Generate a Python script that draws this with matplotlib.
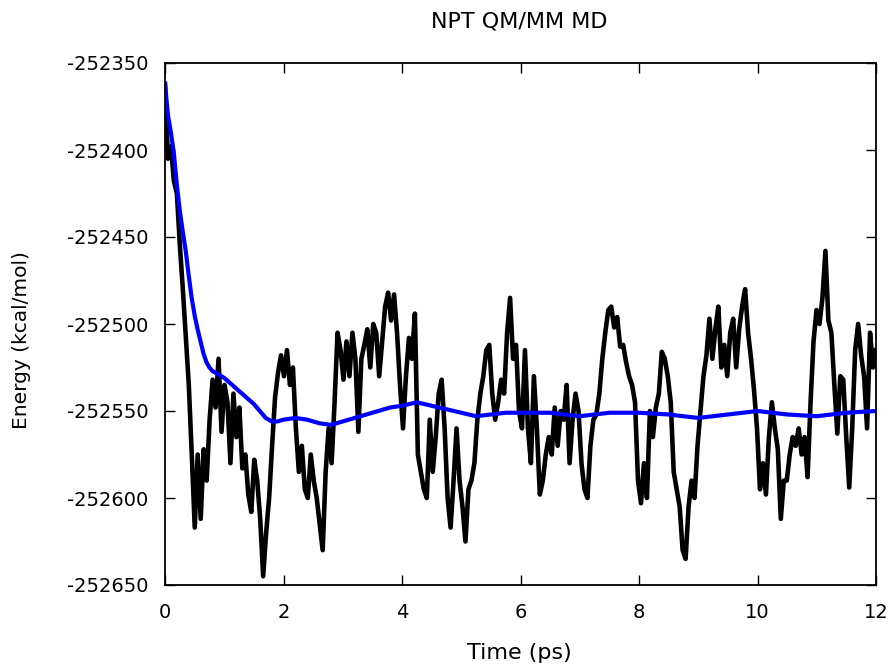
import numpy as np
import matplotlib
matplotlib.use("Agg")
import matplotlib.pyplot as plt

# energy trace (kcal/mol), one value every 0.05 ps from 0 to 12 ps
energy = [
    -252362, -252405, -252398, -252418, -252425, -252455, -252480, -252508, -252535, -252575,
    -252617, -252575, -252612, -252572, -252590, -252555, -252532, -252548, -252520, -252562,
    -252535, -252545, -252580, -252540, -252565, -252548, -252583, -252575, -252598, -252608,
    -252578, -252590, -252612, -252645, -252620, -252600, -252570, -252542, -252528, -252518,
    -252530, -252515, -252535, -252525, -252560, -252585, -252570, -252595, -252600, -252575,
    -252590, -252600, -252615, -252630, -252585, -252560, -252580, -252545, -252505, -252515,
    -252532, -252510, -252530, -252505, -252520, -252562, -252520, -252512, -252503, -252525,
    -252500, -252505, -252530, -252510, -252490, -252482, -252498, -252483, -252505, -252535,
    -252560, -252530, -252508, -252520, -252494, -252575, -252585, -252595, -252600, -252555,
    -252585, -252565, -252540, -252532, -252560, -252600, -252617, -252590, -252560, -252590,
    -252605, -252625, -252595, -252590, -252580, -252555, -252540, -252530, -252515, -252512,
    -252540, -252555, -252545, -252532, -252540, -252505, -252485, -252520, -252512, -252550,
    -252560, -252515, -252560, -252580, -252530, -252560, -252598, -252590, -252575, -252565,
    -252575, -252548, -252570, -252550, -252555, -252535, -252580, -252555, -252540, -252550,
    -252580, -252595, -252600, -252570, -252555, -252552, -252540, -252520, -252505, -252492,
    -252490, -252502, -252496, -252513, -252512, -252522, -252530, -252535, -252545, -252590,
    -252603, -252580, -252600, -252550, -252565, -252548, -252540, -252516, -252520, -252530,
    -252545, -252585, -252595, -252605, -252630, -252635, -252605, -252590, -252600, -252570,
    -252550, -252530, -252518, -252497, -252520, -252503, -252490, -252525, -252512, -252530,
    -252505, -252497, -252525, -252503, -252490, -252480, -252505, -252520, -252538, -252560,
    -252595, -252580, -252598, -252565, -252545, -252560, -252572, -252612, -252590, -252590,
    -252575, -252565, -252570, -252560, -252575, -252565, -252588, -252545, -252510, -252492,
    -252500, -252485, -252458, -252498, -252505, -252535, -252563, -252530, -252532, -252565,
    -252594, -252560, -252515, -252500, -252518, -252530, -252560, -252505, -252525, -252515,
]
time = np.linspace(0, 12, len(energy))

# running average
avg_time = [0.0, 0.05, 0.1, 0.15, 0.2, 0.25, 0.3, 0.35, 0.4, 0.45, 0.5, 0.55, 0.6, 0.65,
            0.7, 0.75, 0.8, 0.9, 1.0, 1.1, 1.2, 1.3, 1.4, 1.5, 1.6, 1.7, 1.8, 1.9, 2.0,
            2.2, 2.4, 2.6, 2.8, 3.0, 3.2, 3.4, 3.6, 3.8, 4.0, 4.25, 4.5, 4.75, 5.0, 5.25,
            5.5, 5.75, 6.0, 6.5, 7.0, 7.5, 8.0, 8.5, 9.0, 9.5, 10.0, 10.5, 11.0, 11.5, 12.0]
avg_energy = [-252362, -252380, -252390, -252402, -252420, -252435, -252447, -252458,
              -252472, -252485, -252495, -252503, -252510, -252517, -252522, -252525,
              -252527, -252529, -252531, -252534, -252537, -252540, -252543, -252546,
              -252550, -252554, -252556, -252556, -252555, -252554, -252555, -252557,
              -252558, -252556, -252554, -252552, -252550, -252548, -252547, -252545,
              -252547, -252549, -252551, -252553, -252552, -252551, -252551, -252551,
              -252553, -252551, -252551, -252552, -252554, -252552, -252550, -252552,
              -252553, -252551, -252550]

xticks = [0, 2, 4, 6, 8, 10, 12]
yticks = [-252650, -252600, -252550, -252500, -252450, -252400, -252350]

fig = plt.figure(figsize=(8.93, 6.68), dpi=100)
ax = fig.add_axes([165/893, 83/668, 711/893, 522/668])

ax.plot(time, energy, color='black', lw=3.3)
ax.plot(avg_time, avg_energy, color='#0000ff', lw=3.0)

ax.set_xlim(0, 12)
ax.set_ylim(-252650, -252350)
ax.set_xticks(xticks)
ax.set_yticks(yticks)
ax.set_yticklabels([str(v) for v in yticks])
ax.tick_params(direction='in', length=7, width=1, top=True, right=True,
               labelsize=14, pad=12, colors='black')
ax.tick_params(axis='x', pad=13)
for s in ax.spines.values():
    s.set_linewidth(1.3)

fig.text(519/893, 1 - 22/668, 'NPT QM/MM MD', ha='center', va='center', fontsize=16)
fig.text(519/893, 1 - 653/668, 'Time (ps)', ha='center', va='center', fontsize=16)
fig.text(22/893, 1 - 340/668, 'Energy (kcal/mol)', ha='center', va='center',
         rotation=90, fontsize=14.5)

fig.savefig('out.png', dpi=100)
